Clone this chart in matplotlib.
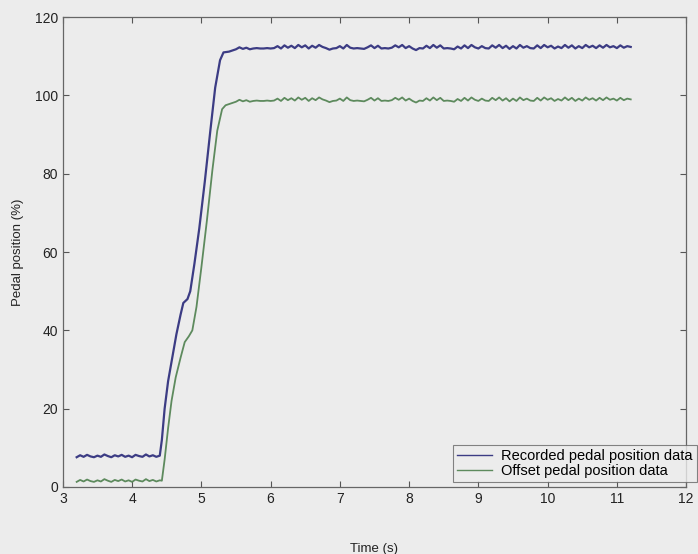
import matplotlib
matplotlib.use('Agg')
import matplotlib.pyplot as plt
import numpy as np

plt.rcParams['font.family'] = ['Liberation Sans', 'DejaVu Sans']

# time axis of the flat start (3.20 .. 4.40 s, 0.05 s steps)
t_low = np.arange(25) * 0.05 + 3.20
blue_low = [7.6, 8.1, 7.7, 8.2, 7.8, 7.6, 8.0, 7.7, 8.3, 7.9, 7.6, 8.1, 7.8,
            8.2, 7.7, 8.0, 7.6, 8.2, 7.9, 7.7, 8.3, 7.8, 8.1, 7.7, 8.0]
green_low = [1.3, 1.8, 1.4, 1.9, 1.5, 1.3, 1.7, 1.4, 2.0, 1.6, 1.3, 1.8, 1.5,
             1.9, 1.4, 1.7, 1.3, 1.9, 1.6, 1.4, 2.0, 1.5, 1.8, 1.4, 1.7]

# pedal press
blue_rise_t = [4.43, 4.47, 4.52, 4.58, 4.64, 4.70, 4.74, 4.80, 4.84, 4.90,
               4.97, 5.05, 5.13, 5.20, 5.27, 5.32]
blue_rise = [12, 20, 27, 33, 39, 44, 47, 48, 50, 57,
             66, 78, 91, 102, 109, 111]
green_rise_t = [4.43, 4.47, 4.52, 4.57, 4.63, 4.70, 4.76, 4.82, 4.87, 4.93,
                5.00, 5.08, 5.16, 5.23, 5.30, 5.35]
green_rise = [1.6, 7, 15, 22, 28, 33, 37, 38.5, 40, 46,
              56, 68, 81, 91, 96.5, 97.5]

# plateau (5.40 .. 11.20 s, 0.05 s steps)
t_high = np.arange(117) * 0.05 + 5.40
blue_high = [
    111.2, 111.5, 111.8, 112.3, 111.9, 112.2, 111.8, 112.0, 112.1, 112.0,
    112.0, 112.1, 112.0, 112.1, 112.6, 112.0, 112.8, 112.2, 112.7, 112.1,
    112.9, 112.3, 112.8, 112.0, 112.7, 112.2, 112.9, 112.4, 112.1, 111.7,
    112.0, 112.1, 112.6, 112.0, 112.9, 112.2, 112.0, 112.1, 112.0, 111.9,
    112.3, 112.8, 112.1, 112.7, 112.0, 112.1, 112.0, 112.2, 112.8, 112.3,
    112.9, 112.1, 112.6, 112.0, 111.6, 112.1, 112.0, 112.7, 112.1, 112.9,
    112.2, 112.8, 112.0, 112.1, 112.0, 111.8, 112.5, 112.0, 112.8, 112.1,
    112.9, 112.3, 112.0, 112.6, 112.1, 112.0, 112.8, 112.2, 112.9, 112.1,
    112.7, 111.9, 112.6, 112.0, 112.9, 112.2, 112.6, 112.1, 112.0, 112.8,
    112.1, 112.9, 112.3, 112.7, 112.0, 112.5, 112.1, 112.9, 112.2, 112.8,
    112.0, 112.6, 112.1, 112.9, 112.3, 112.7, 112.1, 112.8, 112.2, 112.9,
    112.3, 112.6, 112.1, 112.8, 112.2, 112.6, 112.4]
green_high = [
    97.8, 98.1, 98.4, 98.9, 98.5, 98.8, 98.4, 98.6, 98.7, 98.6,
    98.6, 98.7, 98.6, 98.7, 99.2, 98.6, 99.4, 98.8, 99.3, 98.7,
    99.5, 98.9, 99.4, 98.6, 99.3, 98.8, 99.5, 99.0, 98.7, 98.3,
    98.6, 98.7, 99.2, 98.6, 99.5, 98.8, 98.6, 98.7, 98.6, 98.5,
    98.9, 99.4, 98.7, 99.3, 98.6, 98.7, 98.6, 98.8, 99.4, 98.9,
    99.5, 98.7, 99.2, 98.6, 98.2, 98.7, 98.6, 99.3, 98.7, 99.5,
    98.8, 99.4, 98.6, 98.7, 98.6, 98.4, 99.1, 98.6, 99.4, 98.7,
    99.5, 98.9, 98.6, 99.2, 98.7, 98.6, 99.4, 98.8, 99.5, 98.7,
    99.3, 98.5, 99.2, 98.6, 99.5, 98.8, 99.2, 98.7, 98.6, 99.4,
    98.7, 99.5, 98.9, 99.3, 98.6, 99.1, 98.7, 99.5, 98.8, 99.4,
    98.6, 99.2, 98.7, 99.5, 98.9, 99.3, 98.7, 99.4, 98.8, 99.5,
    98.9, 99.2, 98.7, 99.4, 98.8, 99.2, 99.0]

t_blue = np.concatenate([t_low, blue_rise_t, t_high])
y_blue = np.concatenate([blue_low, blue_rise, blue_high])
t_green = np.concatenate([t_low, green_rise_t, t_high])
y_green = np.concatenate([green_low, green_rise, green_high])

bg = '#ececec'
fig = plt.figure(figsize=(6.98, 5.54), dpi=100, facecolor=bg)
ax = fig.add_axes([0.090, 0.121, 0.893, 0.848], facecolor=bg)

ax.plot(t_blue, y_blue, color='#3c3c84', lw=1.6, label='Recorded pedal position data')
ax.plot(t_green, y_green, color='#5d8a5d', lw=1.3, label='Offset pedal position data')

ax.set_xlim(3, 12)
ax.set_ylim(0, 120)
ax.set_xticks(range(3, 13))
ax.set_yticks(range(0, 121, 20))
ax.tick_params(direction='in', top=True, right=True, length=4, width=0.8,
               colors='#555555', labelcolor='#222222', labelsize=10)
for s in ax.spines.values():
    s.set_color('#666666')
    s.set_linewidth(0.9)

ax.set_xlabel('Time (s)', fontsize=9.5, color='#222222', labelpad=27)
ax.set_ylabel('Pedal position (%)', fontsize=9.5, color='#222222', labelpad=8)

leg = ax.legend(loc='upper left', bbox_to_anchor=(0.649, 0.197),
                bbox_transform=fig.transFigure, fontsize=10.5, frameon=True,
                fancybox=False, handlelength=2.4, borderpad=0.3,
                labelspacing=0.05, handletextpad=0.6, borderaxespad=0)
leg.get_frame().set_facecolor(bg)
leg.get_frame().set_edgecolor('#666666')
leg.get_frame().set_linewidth(0.8)
for h in leg.get_lines():
    h.set_linewidth(1.0)

fig.savefig('out.png', dpi=100, facecolor=bg)
